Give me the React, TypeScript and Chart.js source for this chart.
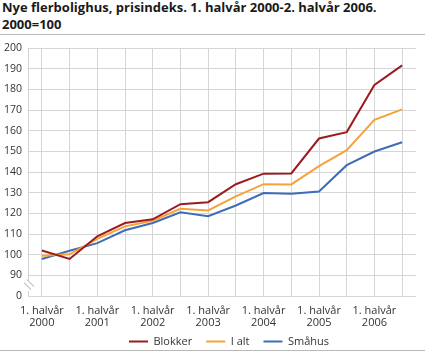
import React, { useEffect, useRef } from "react";
import { Chart, registerables } from "chart.js";

Chart.register(...registerables);

const years = ["2000", "2001", "2002", "2003", "2004", "2005", "2006"];
const categories: string[] = years.flatMap((y) => [`1. halvår ${y}`, `2. halvår ${y}`]);

const blokker = [102.0, 97.9, 108.9, 115.3, 117.1, 124.4, 125.4, 134.1, 139.2, 139.3, 156.2, 159.3, 182.1, 191.6];
const iAlt = [99.5, 100.2, 107.6, 113.7, 116.4, 122.2, 121.4, 128.2, 134.1, 134.0, 142.8, 150.6, 165.2, 170.3];
const smahus = [97.9, 101.9, 105.6, 111.8, 115.3, 120.5, 118.6, 123.8, 129.8, 129.5, 130.6, 143.3, 149.9, 154.4];

const seriesNames = ["Blokker", "I alt", "Småhus"];
const seriesColors = ["#9b1c20", "#f7a13b", "#3e6db7"];

const yMin = 80;
const yMax = 200;
const yStep = 10;

const titleLines = ["Nye flerbolighus, prisindeks. 1. halvår 2000-2. halvår 2006.", "2000=100"];

const FONT = "'Open Sans', 'Noto Sans', sans-serif";

const breakPlugin = {
  id: "axisBreak",
  afterDraw(chart: any) {
    const { ctx } = chart;
    const y = chart.scales.y;
    const x0 = chart.chartArea.left;
    const yc = (y.getPixelForValue(80) + y.getPixelForValue(90)) / 2;
    ctx.save();
    ctx.fillStyle = "#ffffff";
    ctx.fillRect(x0 - 2, yc - 5, 5, 10);
    ctx.strokeStyle = "#c4c4c4";
    ctx.lineWidth = 1.2;
    ctx.beginPath();
    ctx.moveTo(x0 - 4, yc - 3);
    ctx.lineTo(x0 + 3, yc + 4);
    ctx.moveTo(x0 - 1, yc - 6);
    ctx.lineTo(x0 + 6, yc + 1);
    ctx.stroke();
    ctx.restore();
  },
};

const layoutTweak = {
  id: "layoutTweak",
  afterLayout(chart: any) {
    const xs = chart.scales.x;
    if (xs) xs.bottom = xs.top + 45;
    if (chart.legend) {
      chart.legend.left += 21;
      chart.legend.right += 21;
    }
  },
};

function App() {
  const ref = useRef<HTMLCanvasElement | null>(null);

  useEffect(() => {
    if (!ref.current) return;
    const chart = new Chart(ref.current, {
      type: "line",
      data: {
        labels: categories,
        datasets: [blokker, iAlt, smahus].map((d, i) => ({
          label: seriesNames[i],
          data: d,
          borderColor: seriesColors[i],
          backgroundColor: seriesColors[i],
          borderWidth: 2,
          pointRadius: 0,
          pointHoverRadius: 0,
          fill: false,
          tension: 0,
        })),
      },
      options: {
        animation: false,
        responsive: false,
        events: [],
        layout: { padding: { left: 0, right: 13, top: 13, bottom: 0 } },
        plugins: {
          title: { display: false },
          tooltip: { enabled: false },
          legend: {
            display: true,
            position: "bottom",
            labels: {
              boxWidth: 19,
              boxHeight: 2,
              padding: 14,
              color: "#333333",
              font: { family: FONT, size: 11 },
              generateLabels: (c: any) =>
                Chart.defaults.plugins.legend.labels
                  .generateLabels(c)
                  .map((l: any) => ({ ...l, lineWidth: 0, strokeStyle: "rgba(0,0,0,0)" })),
            },
          },
        },
        scales: {
          x: {
            type: "category",
            offset: true,
            grid: { display: true, offset: false, color: "#d6d6d6", lineWidth: 1, drawTicks: false },
            border: { display: false },
            ticks: {
              autoSkip: false,
              maxRotation: 0,
              minRotation: 0,
              padding: 9,
              color: "#333333",
              font: { family: FONT, size: 11, lineHeight: 1.1 },
              callback: (_v: any, i: number) => {
                const c = categories[i];
                if (c.startsWith("1. halvår")) {
                  return ["1. halvår", c.split(" ")[2]];
                }
                return "";
              },
            },
            afterFit: (s: any) => {
              s.height = 26;
            },
          },
          y: {
            type: "linear",
            min: yMin,
            max: yMax,
            grid: { color: "#d6d6d6", lineWidth: 1, drawTicks: false },
            border: { display: true, color: "#d0d0d0", width: 1 },
            ticks: {
              stepSize: yStep,
              padding: 6,
              color: "#333333",
              font: { family: FONT, size: 10.5 },
              callback: (v: any) => (v === yMin ? "0" : String(v)),
            },
            afterFit: (s: any) => {
              s.width = 28;
            },
          },
        },
      },
      plugins: [layoutTweak, breakPlugin],
    });
    return () => chart.destroy();
  }, []);

  return (
    <div
      style={{
        position: "absolute",
        left: 0,
        top: 0,
        width: 429,
        height: 354,
        overflow: "hidden",
        background: "#ffffff",
      }}
    >
      <div
        style={{
          position: "absolute",
          left: 2,
          top: -1,
          fontFamily: FONT,
          fontWeight: 700,
          fontSize: 13,
          lineHeight: "16.5px",
          color: "#1a1a1a",
          whiteSpace: "nowrap",
        }}
      >
        {titleLines[0]}
        <br />
        {titleLines[1]}
      </div>
      <div style={{ position: "absolute", left: 0, top: 34, width: 425, height: 1, background: "#b8b8b8" }} />
      <canvas
        ref={ref}
        width={429}
        height={322}
        style={{ position: "absolute", left: 0, top: 35, width: 429, height: 322 }}
      />
      <div style={{ position: "absolute", left: 0, top: 350, width: 425, height: 1, background: "#b8b8b8", zIndex: 2 }} />
    </div>
  );
}

export default App;
